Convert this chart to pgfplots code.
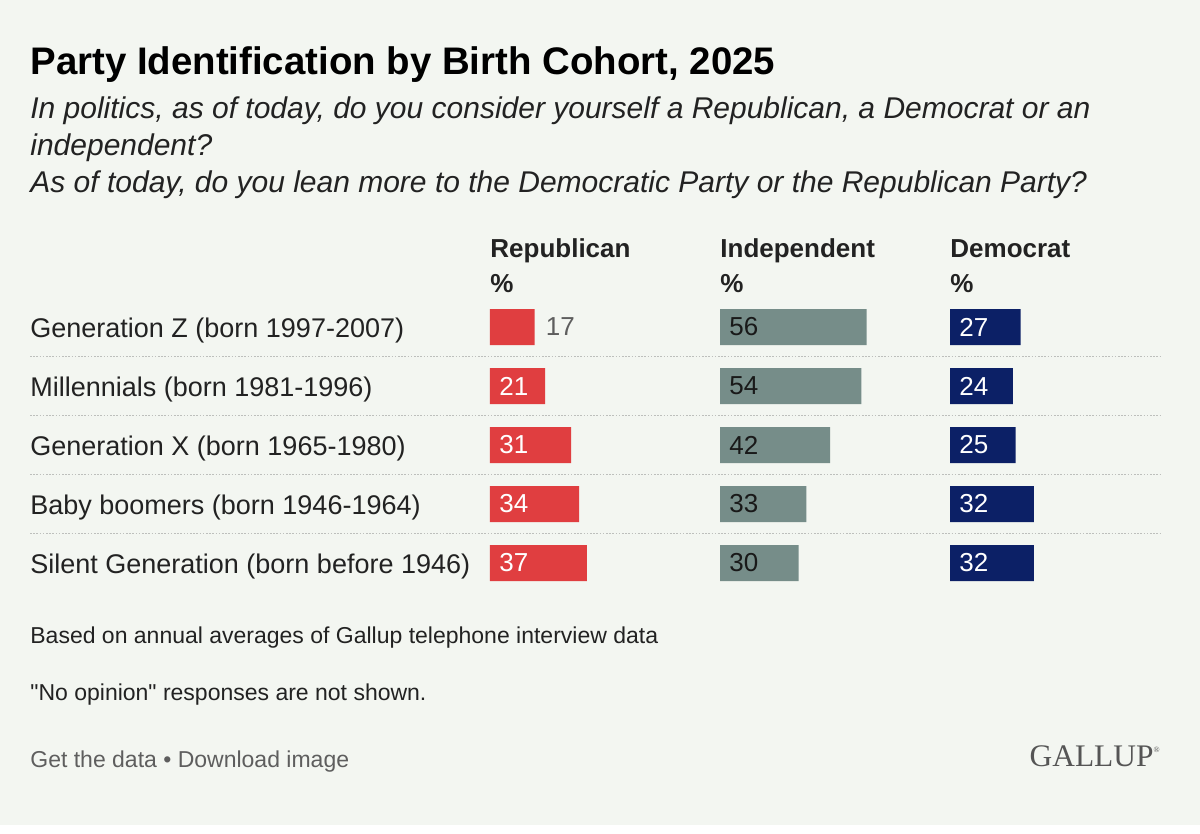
\documentclass[border=0pt]{standalone}
\usepackage{pgfplots}
\pgfplotsset{compat=1.18}
\usepackage{fontspec}
\setmainfont{Liberation Sans}
\newfontfamily\plainsans[Ligatures=TeXOff]{Liberation Sans}
\newfontfamily\gallupserif{Liberation Serif}
\definecolor{bg}{HTML}{F3F6F1}
\definecolor{rep}{HTML}{E03E40}
\definecolor{ind}{HTML}{768D89}
\definecolor{dem}{HTML}{0C2066}
\definecolor{txt}{HTML}{222222}
\definecolor{foot}{HTML}{5E5E5E}
\definecolor{sep}{HTML}{BDBFBC}
\newcommand{\fs}[1]{\fontsize{#1}{#1}\selectfont}
\pgfplotsset{colaxis/.style={
  scale only axis, width=104.8pt, height=147.5pt,
  xmin=0, xmax=80, ymin=0.5, ymax=5.5, y dir=reverse,
  enlargelimits=false,
  axis line style={draw=none}, tick style={draw=none},
  xtick=\empty, ytick=\empty,
  clip=false, anchor=north west,
  /pgf/number format/assume math mode=true,
  nodes near coords style={font=\fs{13}, anchor=west, inner xsep=0pt},
}}
\begin{document}
\begin{tikzpicture}[x=0.5pt,y=-0.5pt]
\fill[white] (0,0) rectangle (1200,834);
\fill[bg] (0,0) rectangle (1200,825);
% titles
\node[anchor=base west, inner sep=0pt, font=\bfseries\fs{19.2}, text=black] at (30,75) {Party Identification by Birth Cohort, 2025};
\node[anchor=base west, inner sep=0pt, font=\itshape\fs{15}, text=txt] at (30,119) {In politics, as of today, do you consider yourself a Republican, a Democrat or an};
\node[anchor=base west, inner sep=0pt, font=\itshape\fs{15}, text=txt] at (30,156) {independent?};
\node[anchor=base west, inner sep=0pt, font=\itshape\fs{15}, text=txt] at (30,193) {As of today, do you lean more to the Democratic Party or the Republican Party?};
% column headers
\foreach \xx/\hh in {490/Republican, 720/Independent, 950/Democrat}{
  \node[anchor=base west, inner sep=0pt, font=\bfseries\fs{13}, text=txt] at (\xx,258) {\hh};
  \node[anchor=base west, inner sep=0pt, font=\bfseries\fs{13}, text=txt] at (\xx,293) {\%};
}
% separators
\foreach \yy in {356.5,415.5,474.5,533.5}{
  \draw[sep, line width=0.6pt, dash pattern=on 0.8pt off 0.8pt] (30,\yy) -- (1160,\yy);
}
% Republican
\begin{axis}[colaxis, at={(245pt,-148.75pt)},
  ytick={1,2,3,4,5},
  yticklabels={Generation Z (born 1997-2007), Millennials (born 1981-1996), Generation X (born 1965-1980), Baby boomers (born 1946-1964), Silent Generation (born before 1946)},
  yticklabel style={anchor=west, xshift=-230pt, yshift=-2pt, inner xsep=0pt, font=\fs{13.5}, text=txt}]
\addplot[xbar, bar width=18pt, fill=rep, draw=none] coordinates {(17,1) (21,2) (31,3) (34,4) (37,5)};
\addplot[draw=none, mark=none, nodes near coords, point meta=explicit,
  nodes near coords style={text=white, xshift=4.5pt}] coordinates {(0,2) [21] (0,3) [31] (0,4) [34] (0,5) [37]};
\addplot[draw=none, mark=none, nodes near coords, point meta=explicit,
  nodes near coords style={text=foot, xshift=5.5pt}] coordinates {(17,1) [17]};
\end{axis}
% Independent
\begin{axis}[colaxis, at={(360pt,-148.75pt)}]
\addplot[xbar, bar width=18pt, fill=ind, draw=none] coordinates {(56,1) (54,2) (42,3) (33,4) (30,5)};
\addplot[draw=none, mark=none, nodes near coords, point meta=explicit,
  nodes near coords style={text=black!90, xshift=4.5pt}] coordinates {(0,1) [56] (0,2) [54] (0,3) [42] (0,4) [33] (0,5) [30]};
\end{axis}
% Democrat
\begin{axis}[colaxis, at={(475pt,-148.75pt)}]
\addplot[xbar, bar width=18pt, fill=dem, draw=none] coordinates {(27,1) (24,2) (25,3) (32,4) (32,5)};
\addplot[draw=none, mark=none, nodes near coords, point meta=explicit,
  nodes near coords style={text=white, xshift=4.5pt}] coordinates {(0,1) [27] (0,2) [24] (0,3) [25] (0,4) [32] (0,5) [32]};
\end{axis}
% footer
\node[anchor=base west, inner sep=0pt, font=\fs{11.5}, text=txt] at (30,643) {Based on annual averages of Gallup telephone interview data};
\node[anchor=base west, inner sep=0pt, font=\plainsans\fs{11.5}, text=txt] at (30,700) {"No opinion" responses are not shown.};
\node[anchor=base west, inner sep=0pt, font=\fs{11.5}, text=foot] at (30,767) {Get the data \textbullet{} Download image};
\node[anchor=base east, inner sep=0pt, font=\gallupserif\fs{15.7}, text=foot!90!black] at (1160,766) {GALLUP\raisebox{7pt}{\fs{4}®}};
\end{tikzpicture}
\end{document}
